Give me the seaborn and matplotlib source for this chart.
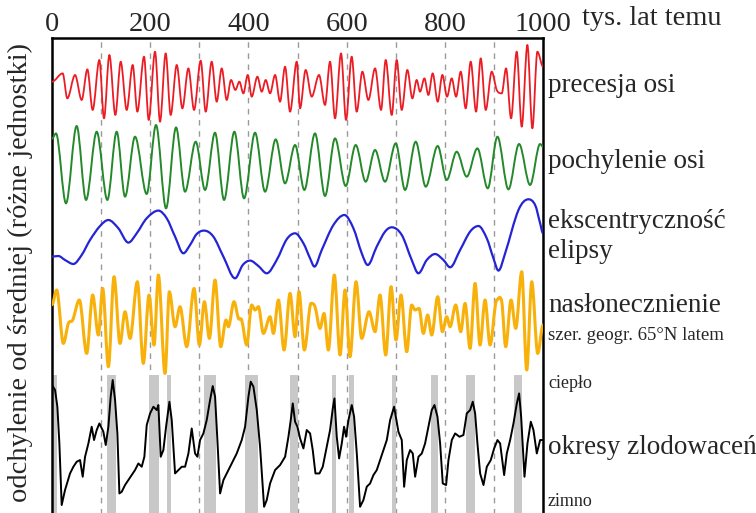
"""
Cykle Milankovicia: precesja, nachylenie osi, ekscentryczność,
nasłonecznienie 65°N oraz okresy zlodowaceń w ostatnim milionie lat.
"""
import numpy as np
import pandas as pd
import matplotlib
matplotlib.use('Agg')
import matplotlib.pyplot as plt
from matplotlib.path import Path
from matplotlib.patches import PathPatch
import seaborn as sns

# 1. Dane (tys. lat temu, odchylenie w jednostkach umownych)
prec_kyr = [0, 21.7, 31.2, 46.9, 60.4, 72.0, 82.8, 96.4, 105.9, 116.8, 129.0, 139.9, 152.1,
            164.3, 173.8, 187.4, 196.9, 209.8, 220.0, 231.5, 241.7, 254.0, 265.5, 277.7,
            289.3, 302.8, 313.0, 325.2, 335.4, 345.6, 355.8, 364.6, 373.4, 381.6, 389.7,
            398.6, 406.7, 418.3, 427.1, 435.2, 444.1, 454.3, 464.4, 474.6, 484.8, 498.4,
            505.1, 516.6, 528.9, 543.8, 556.0, 566.2, 576.4, 588.6, 598.8, 610.3, 620.5,
            632.1, 644.3, 657.9, 670.1, 679.6, 691.8, 702.0, 712.2, 723.7, 733.9, 742.7,
            749.5, 758.4, 766.5, 775.3, 785.5, 795.0, 804.5, 814.0, 822.9, 832.4, 842.5,
            852.7, 863.6, 873.1, 883.3, 895.5, 905.7, 915.9, 924.7, 934.9, 946.4, 956.6,
            968.1, 978.3, 988.5, 1000]
prec_val = [5, 13.3, -11.7, 11.7, -13.3, 17.3, -23.3, 26.7, -31.7, 31.7, -28.3, 25, -23.3,
            21.7, -25, 30, -33.3, 35, -35, 33.3, -28.3, 21.7, -21.7, 18.3,
            -23.3, 26, -25, 25, -15, 18.3, -13.3, 6.7, -3.3, 5, -6.7,
            11.7, -10, 10, -5, 6.7, -6.7, 11.7, -15, 20, -25, 25,
            -21.7, 16.7, -10, 11.7, -18.3, 25, -31.7, 33.3, -33.3, 30, -25,
            15, -13.3, 18.3, -23.3, 26.7, -28.3, 26.7, -23.3, 16.7, -11.7, 6.7,
            -5, 8.3, -8.3, 13.3, -15, 11.7, -10, 8.3, -10, 15, -21.7,
            25, -25, 28.3, -23.3, 15, -3.3, -6.7, 18.3, -31.7, 35, -40,
            41.7, -41.7, 35, 20]

obl_kyr = [0, 8.1, 28.5, 50.2, 69.3, 91.0, 112.7, 131.7, 148.7, 169.1, 192.8, 211.8, 232.2,
           252.6, 270.9, 292.6, 311.7, 332.0, 350.4, 371.4, 391.1, 413.5, 433.9, 455.6,
           474.6, 495.0, 513.9, 535.6, 556.0, 576.4, 598.1, 618.5, 638.8, 657.9, 678.2,
           700.0, 719.0, 740.7, 761.1, 785.5, 803.8, 824.2, 844.6, 866.3, 887.4, 907.1,
           929.5, 951.2, 973.6, 994.0, 1000]
obl_val = [28, 33.3, -36.7, 40.7, -33.3, 35, -33.3, 35, -30, 30, -27.3, 41.7, -41.7,
           39.3, -25, 25, -23.3, 34, -33.3, 35, -31.7, 34, -25, 27.3,
           -16.7, 21.7, -23.3, 33.3, -29.3, 28.3, -19.3, 21.7, -15, 16.7, -15,
           23.3, -23.3, 25, -20, 20.7, -13.3, 15, -10, 18.3, -21.7, 30,
           -22.7, 22.7, -18.3, 22.7, 20]

ecc_kyr = [0, 12.9, 26.5, 43.5, 60.4, 77.4, 97.8, 114.8, 135.1, 155.5, 172.5, 192.8, 216.6,
           233.6, 250.6, 267.5, 281.1, 294.7, 309.6, 328.6, 349.0, 372.8, 388.4, 403.3,
           420.3, 437.3, 457.6, 478.0, 495.0, 512.0, 525.5, 534.4, 549.3, 573.1, 595.5,
           613.8, 630.8, 643.0, 661.3, 678.3, 691.9, 712.3, 732.6, 746.2, 763.2, 780.2,
           797.2, 810.7, 831.1, 851.5, 868.5, 885.4, 899.0, 909.2, 922.8, 950.0, 970.3,
           983.9, 994.1, 1000]
ecc_val = [-13.3, -12.7, -16.7, -20.7, -11.7, 3.3, 17.3, 23.3, 15, 0.7, 10, 25, 32.7,
           25, 6.7, -10, -1.7, 9.3, 12.7, 6.7, -13.3, -35, -21.7, -17.3,
           -22.7, -30, -16.7, 4, 10, 0, -15, -23.3, -6.7, 18.3, 28.3,
           15, -10, -21.7, -3.3, 11.7, 16, 8.3, -16.7, -30, -16.7, -10.7,
           -16.7, -24, -6.7, 11.7, 17.3, 5, -15, -27.3, -10, 33.3, 44,
           38.3, 20, 10]

ins_kyr = [0, 9.5, 23.1, 33.3, 42.1, 55.7, 70.6, 82.8, 94.4, 103.2, 114.8, 126.3, 138.5,
           148.7, 158.9, 173.8, 186.0, 197.6, 207.8, 216.6, 230.2, 239.0, 250.6, 260.7,
           274.3, 289.3, 300.1, 310.3, 320.5, 332.0, 343.6, 354.4, 359.2, 370.7, 379.6,
           386.3, 396.5, 406.7, 413.5, 420.3, 430.5, 444.1, 450.9, 461.1, 472.6, 484.8,
           495.0, 503.0, 513.9, 527.5, 535.6, 545.8, 554.0, 562.8, 575.0, 586.6, 596.8,
           606.9, 619.2, 630.7, 645.6, 657.9, 668.0, 679.6, 690.5, 700.6, 710.8, 722.4,
           732.5, 739.3, 747.5, 756.3, 765.1, 773.3, 785.5, 795.0, 803.8, 810.6, 822.2,
           832.4, 841.2, 851.4, 861.6, 871.7, 881.9, 892.1, 905.7, 915.9, 924.0, 934.9,
           944.4, 956.6, 966.8, 977.0, 989.2, 1000]
ins_val = [17, 31.7, -21.7, -1.7, 1.7, 21.7, -31.7, 26.7, -13.3, 33.3, -45, 45, -21.7,
           10, -16.7, 40, -41.7, 26.7, -23.3, 46.7, -51.7, 30, -5, 15,
           -25, 33.3, -23.3, 20, -16.7, 41.7, -25, 1.7, -5, 20, 3.3,
           1.7, -23.3, 16.7, 11.7, 15, -11.7, 5, -11.7, 21.7, -28.3, 28.3,
           -15, 30, -28.3, 18.3, 15, -6.7, 8.3, -28.3, 46.7, -33.3, 31.7,
           -35, 40, -16.7, 10, -10, 26.7, -33.3, 35, -18.3, 26.7, -30,
           16.7, 11.7, 13.3, -11.7, 6.7, -13.3, 25, -10, 5, -5, 16.7,
           -10, 18.3, -26.7, 38.3, -23.3, 21.7, -23.3, 21.7, 20, -25, 21.7,
           -6.7, 50, -48.3, 40, -31.7, -3.3]

ice_kyr = [0, 6.2, 10.9, 15.0, 19.7, 26.5, 36.7, 43.5, 50.3, 57.1, 62.5, 67.3, 74.1, 80.8,
           85.6, 91.0, 96.5, 104.6, 109.4, 114.8, 119.5, 123.6, 128.4, 133.1, 137.2, 142.0,
           148.7, 155.5, 162.3, 169.1, 175.9, 182.7, 188.1, 192.9, 199.7, 206.5, 213.3,
           216.6, 221.4, 226.8, 232.3, 239.1, 243.8, 250.6, 257.4, 264.2, 271.0, 277.8,
           284.5, 291.3, 296.1, 301.5, 308.3, 315.1, 321.9, 327.3, 332.1, 336.8, 342.3,
           349.1, 355.8, 366.0, 376.2, 386.4, 393.2, 400.0, 404.7, 410.2, 417.0, 423.7,
           431.9, 437.3, 444.1, 454.3, 464.5, 474.7, 481.5, 486.2, 490.3, 495.0, 499.8,
           505.2, 512.0, 518.8, 525.6, 531.0, 536.5, 544.6, 551.4, 559.5, 566.3, 571.8,
           575.2, 579.9, 584.7, 590.1, 594.8, 598.9, 603.7, 610.5, 615.2, 620.7, 627.4,
           634.2, 641.0, 647.8, 654.6, 661.4, 668.2, 675.0, 681.8, 688.6, 696.7, 705.5,
           712.3, 717.1, 722.5, 729.3, 734.7, 739.5, 746.3, 753.1, 759.8, 766.6, 773.4,
           778.9, 785.0, 790.4, 795.8, 802.6, 807.4, 814.2, 821.0, 829.8, 837.9, 844.7,
           851.5, 856.9, 861.7, 866.4, 871.9, 878.7, 885.5, 893.6, 900.4, 907.2, 912.6,
           920.8, 926.2, 933.0, 939.8, 946.6, 951.3, 955.4, 962.2, 968.3, 975.1, 980.5,
           987.3, 994.1, 1000]
ice_val = [61.7, 56.7, 40, 3.3, -58.3, -43.3, -26.7, -20, -15, -13.3, -30, -10, 3.3, 20,
           6.7, 16.7, 23.3, 15, 1.7, 20, 50, 66.7, 46.7, 13.3, -46.7, -45,
           -38.3, -33.3, -28.3, -23.3, -16.7, -20, -10, 21.7, 33.3, 40, 36.7,
           41.7, -10, -3.3, 20, 45, 26.7, -26.7, -23.3, -20, -20, -6.7,
           18.3, -6.7, -10, 6.7, 13.3, 26.7, 46.7, 60.7, 50, 6.7, -46.7,
           -33.3, -26.7, -16.7, -6.7, 6.7, 20, 50, 65, 60, 36.7, 0,
           -60, -53.3, -36.7, -23.3, -18.3, -10, 10, 26.7, 43.3, 25, 20,
           8.3, -1.7, 16.7, 13.3, -3.3, -26.7, -26.7, -20, 0, 16.7, 38.3,
           48.3, 10, -11.7, 3.3, 20, 10, 26.7, 41.7, 30, -6.7, -60,
           -53.3, -40, -36.7, -28.3, -23.3, -13.3, -3.3, 6.7, 26.7, 40, 15,
           6.7, -40, -13.3, -3.3, -6.7, -30, -10, -6.7, 3.3, 20, 36.7,
           41.7, 30, 3.3, -36.7, -38.3, -13.3, 6.7, 13.3, 10, 11.7, 33.3,
           36.7, 45, 33.3, 3.3, -26.7, -38.3, -20, -13.3, -1.7, 6.7, 3.3,
           -28.3, -6.7, 6.7, 23.3, 43.3, 53.3, 30, -30, 3.3, 25, 16.7,
           -6.7, 6.7, 6.7]

# interglacjały (szare pasy)
warm_start = [0, 113, 197, 234, 310, 393, 485, 570, 604, 693, 772, 843, 940]
warm_end = [10, 130, 217, 243, 333, 419, 500, 579, 615, 701, 786, 862, 957]

tick_pos = [0, 200, 400, 600, 800, 1000]
tick_lab = ['0', '200', '400', '600', '800', '1000']


def smooth_line(ax, x, y, color, lw):
    # gładka linia przez odczytane punkty (krzywe Beziera, poziome styczne w ekstremach)
    x = np.asarray(x, float)
    y = np.asarray(y, float)
    n = len(x)
    m = np.zeros(n)
    for i in range(1, n - 1):
        if (y[i] - y[i - 1]) * (y[i + 1] - y[i]) > 0:
            m[i] = (y[i + 1] - y[i - 1]) / (x[i + 1] - x[i - 1])
    verts = [(x[0], y[0])]
    codes = [Path.MOVETO]
    for i in range(n - 1):
        d = (x[i + 1] - x[i]) / 3
        verts += [(x[i] + d, y[i] + m[i] * d), (x[i + 1] - d, y[i + 1] - m[i + 1] * d),
                  (x[i + 1], y[i + 1])]
        codes += [Path.CURVE4] * 3
    ax.add_patch(PathPatch(Path(verts, codes), fill=False, edgecolor=color, lw=lw,
                           joinstyle='round', capstyle='round', zorder=3))


# 2. Styl
sns.set_style('white')
plt.rcParams['font.family'] = ['Liberation Serif', 'DejaVu Serif']

fig = plt.figure(figsize=(7.56, 5.13), dpi=100)
ax = fig.add_axes([0.0688, -0.004, 0.6495, 0.930])

# 3. Krzywe orbitalne (każda przesunięta do swojego pasa)
smooth_series = [
    (prec_kyr, prec_val, -48.7, '#ec1c24', 1.3),
    (obl_kyr, obl_val, -128.7, '#24892a', 1.4),
    (ecc_kyr, ecc_val, -205.3, '#2424d6', 1.6),
    (ins_kyr, ins_val, -283.7, '#f8b10a', 2.2),
]
for kyr, val, offset, color, lw in smooth_series:
    smooth_line(ax, kyr, np.array(val) + offset, color, lw)

# zapis klimatyczny - linia łamana
ice = pd.DataFrame({'kyr': ice_kyr, 'y': np.array(ice_val) - 408.7})
sns.lineplot(data=ice, x='kyr', y='y', color='black', lw=1.4, ax=ax, zorder=3)

for s, e in zip(warm_start, warm_end):
    ax.fill_between([s, e], -480, -337, color='#c8c8c8', lw=0, zorder=1)

for x in range(100, 1000, 100):
    ax.axvline(x, color='#9a9a9a', lw=1, ls=(0, (4, 4)), zorder=0)

ax.set_xlim(0, 1000)
ax.set_ylim(-477, 0)
ax.set_xlabel('')
ax.set_ylabel('')
ax.set_yticks([])
ax.xaxis.tick_top()
ax.set_xticks(tick_pos)
ax.set_xticklabels(tick_lab, fontsize=20.5)
ax.tick_params(axis='x', length=0, pad=1)
for side in ['top', 'left', 'right']:
    ax.spines[side].set_linewidth(1.8)
    ax.spines[side].set_color('black')
ax.spines['bottom'].set_visible(False)

# 4. Opisy
W, H = 756, 513
def label(px, py, txt, size):
    fig.text(px / W, 1 - py / H, txt, fontsize=size, ha='left', va='center')

label(582, 19, 'tys. lat temu', 20.5)
label(548, 85, 'precesja osi', 19.5)
label(548, 162, 'pochylenie osi', 19.5)
label(548, 222, 'ekscentryczność', 19.5)
label(548, 252, 'elipsy', 19.5)
label(548, 306, 'nasłonecznienie', 19.5)
label(548, 335, 'szer. geogr. 65°N latem', 13.5)
label(548, 384, 'ciepło', 13)
label(548, 447, 'okresy zlodowaceń', 19.5)
label(548, 502, 'zimno', 13)

fig.text(20 / W, 1 - 272 / H, 'odchylenie od średniej (różne jednostki)',
         fontsize=20.5, rotation=90, ha='center', va='center')

fig.savefig('out.png', dpi=100)
